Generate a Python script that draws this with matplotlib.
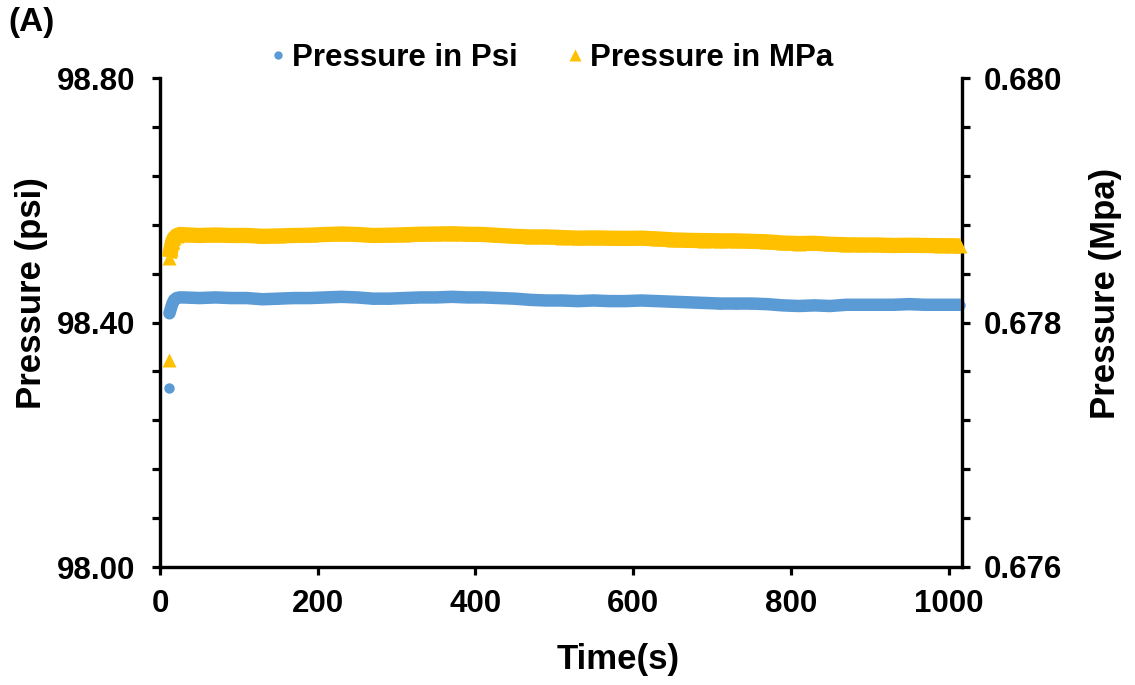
import matplotlib
matplotlib.use("Agg")
import matplotlib.pyplot as plt
from matplotlib.lines import Line2D
from matplotlib.ticker import MultipleLocator, FormatStrFormatter

plt.rcParams['font.family'] = ['Liberation Sans', 'DejaVu Sans']
plt.rcParams['font.weight'] = 'bold'

# ---- data ----
time_s = [11, 12, 14, 16, 18, 21, 25,
          30, 50, 70, 90, 110, 130, 150, 170, 190, 210, 230, 250, 270, 290,
          310, 330, 350, 370, 390, 410, 430, 450, 470, 490, 510, 530, 550,
          570, 590, 610, 630, 650, 670, 690, 710, 730, 750, 770, 790, 810,
          830, 850, 870, 890, 910, 930, 950, 970, 990, 1005, 1015]

pressure_psi = [98.293, 98.415, 98.424, 98.432, 98.437, 98.440, 98.441,
                98.441, 98.440, 98.441, 98.440, 98.440, 98.438, 98.439, 98.440,
                98.440, 98.441, 98.442, 98.441, 98.439, 98.439, 98.440, 98.441,
                98.441, 98.442, 98.441, 98.441, 98.440, 98.439, 98.437, 98.436,
                98.436, 98.435, 98.436, 98.435, 98.435, 98.436, 98.435, 98.434,
                98.433, 98.432, 98.431, 98.431, 98.431, 98.430, 98.428, 98.427,
                98.428, 98.427, 98.429, 98.429, 98.429, 98.429, 98.430, 98.429,
                98.429, 98.429, 98.429]

pressure_mpa = [0.67769, 0.67853, 0.67860, 0.67866, 0.67869, 0.67871, 0.67872,
                0.678718, 0.678712, 0.678716, 0.678712, 0.678712, 0.678705,
                0.678708, 0.678712, 0.678714, 0.678720, 0.678724, 0.678720,
                0.678712, 0.678714, 0.678718, 0.678722, 0.678724, 0.678726,
                0.678722, 0.678720, 0.678712, 0.678705, 0.678700, 0.678700,
                0.678695, 0.678690, 0.678692, 0.678690, 0.678688, 0.678690,
                0.678684, 0.678676, 0.678672, 0.678670, 0.678668, 0.678668,
                0.678664, 0.678660, 0.678650, 0.678646, 0.678648, 0.678640,
                0.678636, 0.678634, 0.678634, 0.678630, 0.678632, 0.678630,
                0.678628, 0.678628, 0.678626]

x_ticks = [0, 200, 400, 600, 800, 1000]
psi_ticks = [98.00, 98.40, 98.80]
mpa_ticks = [0.676, 0.678, 0.680]

BLUE = '#5B9BD5'
YELLOW = '#FFC000'

fig = plt.figure(figsize=(11.35, 6.85), dpi=100)
ax = fig.add_axes([160/1135, 1-567/685, (962-160)/1135, (567-78)/685])
ax2 = ax.twinx()

# blue series
ax.plot(time_s[1:], pressure_psi[1:], color=BLUE, lw=9, solid_capstyle='round', zorder=3)
ax.plot(time_s, pressure_psi, ls='none', marker='o', ms=7.5, color=BLUE, mec='none', zorder=3, clip_on=False)

# yellow series
ax2.plot(time_s[1:], pressure_mpa[1:], color=YELLOW, lw=11, solid_capstyle='butt', zorder=3)
ax2.plot(time_s, pressure_mpa, ls='none', marker='^', ms=10, color=YELLOW, mec='none', zorder=3, clip_on=False)

ax.set_xlim(0, 1017)
ax.set_ylim(98.0, 98.8)
ax2.set_ylim(0.676, 0.680)

ax.set_xticks(x_ticks)
ax.set_yticks(psi_ticks)
ax.yaxis.set_minor_locator(MultipleLocator(0.08))
ax.yaxis.set_major_formatter(FormatStrFormatter('%.2f'))
ax2.set_yticks(mpa_ticks)
ax2.yaxis.set_minor_locator(MultipleLocator(0.0004))
ax2.yaxis.set_major_formatter(FormatStrFormatter('%.3f'))

for a in (ax, ax2):
    a.spines['top'].set_visible(False)
    for s in ('left', 'right', 'bottom'):
        a.spines[s].set_linewidth(2.3)
        a.spines[s].set_color('black')
    a.tick_params(which='both', direction='out', length=6, width=2.3, labelsize=22.5, colors='black')
ax.tick_params(axis='x', pad=10)
ax.tick_params(axis='y', pad=12)
ax2.tick_params(axis='y', pad=10)
for lab in ax.get_xticklabels() + ax.get_yticklabels() + ax2.get_yticklabels():
    lab.set_fontweight('bold')

fig.text(618/1135, 1-660/685, 'Time(s)', ha='center', va='center', fontsize=25, fontweight='bold')
fig.text(32/1135, 1-293/685, 'Pressure (psi)', ha='center', va='center', rotation=90, fontsize=25, fontweight='bold')
fig.text(1105/1135, 1-293/685, 'Pressure (Mpa)', ha='center', va='center', rotation=90, fontsize=25, fontweight='bold')
fig.text(8/1135, 1-22/685, '(A)', ha='left', va='center', fontsize=24, fontweight='bold')

handles = [Line2D([], [], ls='none', marker='o', ms=6, color=BLUE, mec='none'),
           Line2D([], [], ls='none', marker='^', ms=8, color=YELLOW, mec='none')]
fig.legend(handles, ['Pressure in Psi', 'Pressure in MPa'], loc='center', ncol=2,
           bbox_to_anchor=(552/1135, 1-58/685), frameon=False, handlelength=0.45,
           handletextpad=0.25, columnspacing=1.6, prop={'size': 22.5, 'weight': 'bold'})

fig.savefig('out.png', dpi=100)
